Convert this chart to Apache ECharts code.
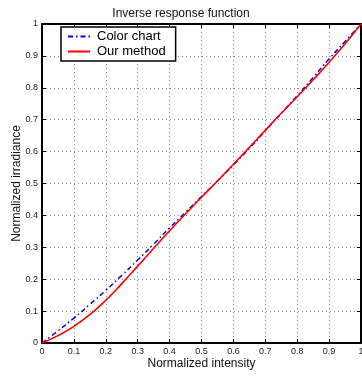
<!DOCTYPE html>
<html>
<head>
<meta charset="utf-8">
<script src="https://cdn.jsdelivr.net/npm/echarts@6/dist/echarts.min.js"></script>
<style>
  html, body { margin: 0; padding: 0; background: #fff; }
  #chart { width: 362px; height: 376px; }
</style>
</head>
<body>
<div id="chart"></div>
<script>
// Normalized intensity samples
const intensity = [0, 0.05, 0.1, 0.15, 0.2, 0.25, 0.3, 0.35, 0.4, 0.45, 0.5,
                   0.55, 0.6, 0.65, 0.7, 0.75, 0.8, 0.85, 0.9, 0.95, 1];
// Irradiance recovered from the colour chart
const colorChart = [0, 0.038, 0.078, 0.121, 0.165, 0.212, 0.26, 0.31, 0.361, 0.41, 0.459,
                    0.508, 0.558, 0.61, 0.665, 0.72, 0.775, 0.832, 0.891, 0.945, 1];
// Irradiance recovered by our method
const ourMethod = [0, 0.023, 0.052, 0.089, 0.134, 0.186, 0.241, 0.297, 0.352, 0.405, 0.457,
                   0.508, 0.56, 0.613, 0.667, 0.72, 0.772, 0.825, 0.88, 0.938, 1];
const tickLabels = ['0', '0.1', '0.2', '0.3', '0.4', '0.5', '0.6', '0.7', '0.8', '0.9', '1'];

const FONT = '"Liberation Sans", Arial, sans-serif';
const pair = (ys) => intensity.map((x, i) => [x, ys[i]]);
const fmt = (v) => tickLabels[Math.round(v * 10)];

const frameLine = { show: true, onZero: false, lineStyle: { color: '#000', width: 2 } };
const innerTick = { show: true, inside: true, length: 4, lineStyle: { color: '#000', width: 1 } };
const dotted = { show: true, lineStyle: { color: '#8a8a8a', width: 1, type: [1, 3] } };

function valueAxis(extra) {
  return Object.assign({
    type: 'value', min: 0, max: 1, interval: 0.1,
    axisLine: frameLine, axisTick: innerTick
  }, extra);
}

const chart = echarts.init(document.getElementById('chart'), null, { renderer: 'canvas' });
chart.setOption({
  animation: false,
  backgroundColor: '#fff',
  title: {
    text: 'Inverse response function',
    left: 'center', top: 3,
    textStyle: { fontFamily: FONT, fontSize: 12, fontWeight: 'normal', color: '#111' }
  },
  legend: {
    left: 61, top: 27,
    orient: 'vertical',
    backgroundColor: '#fff',
    borderColor: '#000', borderWidth: 1.5, borderRadius: 0,
    padding: [3, 10, 3, 6],
    itemGap: 2, itemWidth: 22, itemHeight: 12,
    itemStyle: { opacity: 0 },
    textStyle: { fontFamily: FONT, fontSize: 13, color: '#000', padding: [0, 0, 0, 2] },
    data: ['Color chart', 'Our method']
  },
  grid: { left: 42, right: 1, top: 24, bottom: 33, containLabel: false, outerBoundsMode: 'none' },
  xAxis: [
    valueAxis({
      position: 'bottom',
      name: 'Normalized intensity', nameLocation: 'middle', nameGap: 15, nameMoveOverlap: false,
      nameTextStyle: { fontFamily: FONT, fontSize: 12, color: '#111' },
      axisLabel: { fontFamily: FONT, fontSize: 9, color: '#222', margin: 4, formatter: fmt },
      splitLine: dotted
    }),
    valueAxis({ position: 'top', axisLabel: { show: false }, splitLine: { show: false } })
  ],
  yAxis: [
    valueAxis({
      position: 'left',
      name: 'Normalized irradiance', nameLocation: 'middle', nameGap: 19, nameMoveOverlap: false,
      nameTextStyle: { fontFamily: FONT, fontSize: 12, color: '#111' },
      axisLabel: { fontFamily: FONT, fontSize: 9, color: '#222', margin: 4, formatter: fmt },
      splitLine: dotted
    }),
    valueAxis({ position: 'right', axisLabel: { show: false }, splitLine: { show: false } })
  ],
  series: [
    {
      name: 'Color chart', type: 'line', smooth: true, showSymbol: false, symbol: 'none',
      data: pair(colorChart), z: 3,
      itemStyle: { color: '#0000ff' },
      lineStyle: { color: '#0000ff', width: 1.5, type: [5, 3, 1.5, 3] }
    },
    {
      name: 'Our method', type: 'line', smooth: true, showSymbol: false, symbol: 'none',
      data: pair(ourMethod), z: 4,
      itemStyle: { color: '#ff0000' },
      lineStyle: { color: '#ff0000', width: 1.6 }
    }
  ]
});
</script>
</body>
</html>
